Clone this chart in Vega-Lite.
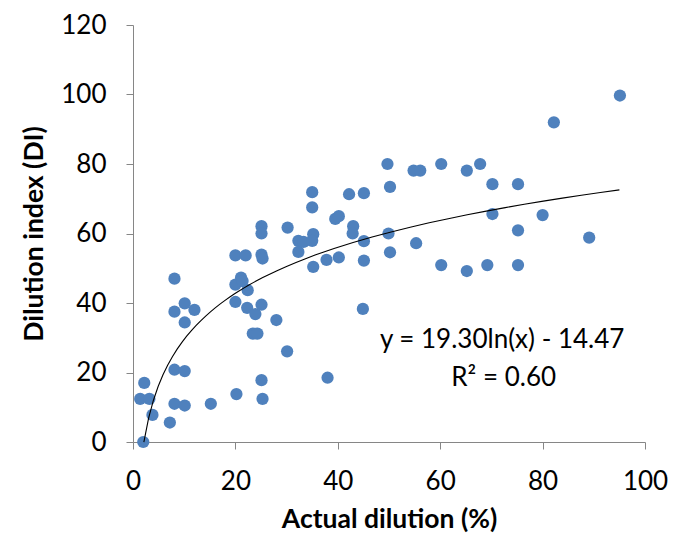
{
  "$schema": "https://vega.github.io/schema/vega-lite/v6.json",
  "autosize": "none",
  "width": 512,
  "height": 417,
  "padding": {"left": 133, "top": 25, "right": 40, "bottom": 116},
  "background": "white",
  "config": {
    "view": {"stroke": null},
    "font": "Lato",
    "axis": {
      "grid": false,
      "labelFlush": false,
      "labelOverlap": false,
      "domainColor": "#868686",
      "tickColor": "#868686",
      "tickSize": 7,
      "labelFont": "Lato",
      "labelFontSize": 26,
      "labelColor": "#000000",
      "titleFont": "Lato",
      "titleFontSize": 26.5,
      "titleFontWeight": "bold",
      "titleColor": "#000000"
    }
  },
  "datasets": {
    "pts": [
      {"x": 2, "y": 0}, {"x": 2.2, "y": 17}, {"x": 1.4, "y": 12.4}, {"x": 3.2, "y": 12.4},
      {"x": 3.8, "y": 7.8}, {"x": 7.2, "y": 5.6}, {"x": 8.1, "y": 47}, {"x": 8.1, "y": 37.5},
      {"x": 8.1, "y": 20.8}, {"x": 8.1, "y": 11}, {"x": 10.1, "y": 39.9}, {"x": 10.1, "y": 34.4},
      {"x": 10.1, "y": 20.4}, {"x": 10.1, "y": 10.5}, {"x": 12, "y": 38}, {"x": 15.2, "y": 11},
      {"x": 20, "y": 53.7}, {"x": 20, "y": 45.3}, {"x": 20, "y": 40.3}, {"x": 20.2, "y": 13.8},
      {"x": 21.1, "y": 47.3}, {"x": 21.4, "y": 46.3}, {"x": 22, "y": 53.7}, {"x": 22.3, "y": 38.6},
      {"x": 22.4, "y": 43.7}, {"x": 23.4, "y": 31.2}, {"x": 24.3, "y": 31.2}, {"x": 23.9, "y": 36.8},
      {"x": 25.1, "y": 62.1}, {"x": 25.1, "y": 60}, {"x": 25.1, "y": 53.9}, {"x": 25.3, "y": 52.8},
      {"x": 25.1, "y": 39.5}, {"x": 25.1, "y": 17.8}, {"x": 25.3, "y": 12.4}, {"x": 28, "y": 35.1},
      {"x": 30.1, "y": 26.1}, {"x": 30.2, "y": 61.7}, {"x": 32.3, "y": 57.9}, {"x": 32.3, "y": 54.7},
      {"x": 33.3, "y": 57.6}, {"x": 35, "y": 71.9}, {"x": 35, "y": 67.5}, {"x": 35.2, "y": 59.8},
      {"x": 35, "y": 57.9}, {"x": 35.2, "y": 50.4}, {"x": 37.8, "y": 52.4}, {"x": 38, "y": 18.5},
      {"x": 39.5, "y": 64.2}, {"x": 40.2, "y": 65}, {"x": 40.2, "y": 53.1}, {"x": 42.2, "y": 71.3},
      {"x": 43, "y": 62.1}, {"x": 42.9, "y": 60}, {"x": 45.1, "y": 71.6}, {"x": 45.1, "y": 57.8},
      {"x": 45.1, "y": 52.2}, {"x": 44.9, "y": 38.3}, {"x": 49.7, "y": 80}, {"x": 50.2, "y": 73.4},
      {"x": 49.9, "y": 60}, {"x": 50.2, "y": 54.6}, {"x": 54.8, "y": 78.1}, {"x": 56.1, "y": 78.1},
      {"x": 55.3, "y": 57.2}, {"x": 60.2, "y": 80}, {"x": 60.2, "y": 50.9}, {"x": 65.2, "y": 78.1},
      {"x": 65.2, "y": 49.2}, {"x": 67.8, "y": 80}, {"x": 70.2, "y": 74.2}, {"x": 70.2, "y": 65.6},
      {"x": 69.2, "y": 50.9}, {"x": 75.2, "y": 74.2}, {"x": 75.2, "y": 60.9}, {"x": 75.2, "y": 50.9},
      {"x": 80, "y": 65.3}, {"x": 82.2, "y": 92}, {"x": 89.1, "y": 58.8}, {"x": 95.1, "y": 99.7}
    ],
    "notes": [
      {"x": 72.1, "y": 29.4, "label": "y = 19.30ln(x) - 14.47"},
      {"x": 72.4, "y": 18.4, "label": "R² = 0.60"}
    ]
  },
  "layer": [
    {
      "data": {"name": "pts"},
      "mark": {"type": "point", "filled": true, "shape": "circle", "size": 150, "color": "#4F81BD", "opacity": 1},
      "encoding": {
        "x": {"field": "x", "type": "quantitative", "title": "Actual dilution (%)",
              "scale": {"domain": [0, 100], "nice": false},
              "axis": {"values": [0, 20, 40, 60, 80, 100], "labelPadding": 19, "titlePadding": 12}},
        "y": {"field": "y", "type": "quantitative", "title": "Dilution index (DI)",
              "scale": {"domain": [0, 120], "nice": false},
              "axis": {"values": [0, 20, 40, 60, 80, 100, 120], "labelPadding": 20, "titlePadding": 12}}
      }
    },
    {
      "data": {"name": "pts"},
      "transform": [
        {"regression": "y", "on": "x", "method": "log", "extent": [2.12, 95]}
      ],
      "mark": {"type": "line", "color": "#000000", "strokeWidth": 1.1},
      "encoding": {
        "x": {"field": "x", "type": "quantitative"},
        "y": {"field": "y", "type": "quantitative"}
      }
    },
    {
      "data": {"name": "notes"},
      "mark": {"type": "text", "font": "Lato", "fontSize": 26, "color": "#000000", "align": "center", "baseline": "middle"},
      "encoding": {
        "x": {"field": "x", "type": "quantitative"},
        "y": {"field": "y", "type": "quantitative"},
        "text": {"field": "label"}
      }
    }
  ]
}
